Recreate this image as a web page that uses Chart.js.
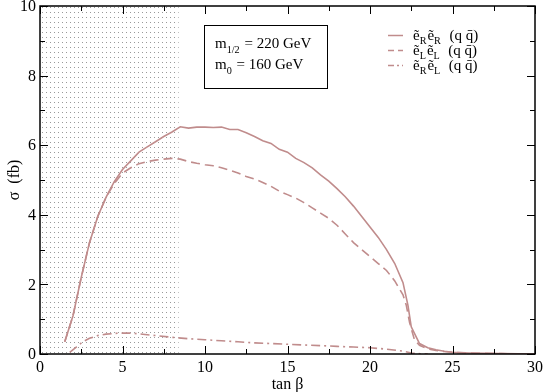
<!DOCTYPE html>
<html>
<head>
<meta charset="utf-8">
<script src="https://cdn.jsdelivr.net/npm/chart.js@4"></script>
<style>
  html, body { margin: 0; padding: 0; background: #fff; }
  #chart { display: block; }
</style>
</head>
<body>
<canvas id="chart" width="545" height="392"></canvas>
<script>
// valores (tan beta, sigma em fb)
const xRR = [1.5, 2, 2.5, 3, 3.5, 4, 4.5, 5, 5.5, 6, 6.5, 7, 7.5, 8, 8.5, 9, 9.5, 10, 10.5, 11, 11.5, 12, 12.5, 13, 13.5, 14, 14.5, 15, 15.5, 16, 16.5, 17, 17.5, 18, 18.5, 19, 19.5, 20, 20.5, 21, 21.5, 22, 22.3, 22.5, 23, 23.5, 24, 24.5, 25, 26, 27, 28, 29, 30];
const yRR = [0.35, 1.1, 2.2, 3.2, 3.95, 4.5, 4.95, 5.3, 5.55, 5.8, 5.95, 6.1, 6.25, 6.38, 6.53, 6.49, 6.52, 6.52, 6.51, 6.52, 6.45, 6.45, 6.36, 6.25, 6.13, 6.05, 5.88, 5.8, 5.62, 5.5, 5.35, 5.15, 4.97, 4.75, 4.52, 4.25, 3.95, 3.65, 3.35, 3.0, 2.6, 2.05, 1.4, 0.78, 0.3, 0.18, 0.12, 0.08, 0.05, 0.03, 0.02, 0.01, 0.005, 0];

const xLL = [1.5, 2, 2.5, 3, 3.5, 4, 4.5, 5, 5.5, 6, 6.5, 7, 7.5, 8, 8.5, 9, 9.5, 10, 10.5, 11, 11.5, 12, 12.5, 13, 13.5, 14, 14.5, 15, 15.5, 16, 16.5, 17, 17.5, 18, 18.5, 19, 19.5, 20, 20.5, 21, 21.5, 22, 22.2, 22.4, 22.7, 23, 23.5, 24, 24.5, 25, 26, 27, 28, 29, 30];
const yLL = [0.35, 1.1, 2.2, 3.2, 3.95, 4.5, 4.9, 5.2, 5.35, 5.47, 5.53, 5.57, 5.6, 5.62, 5.6, 5.53, 5.48, 5.44, 5.41, 5.35, 5.28, 5.2, 5.1, 5.03, 4.93, 4.82, 4.68, 4.58, 4.48, 4.35, 4.2, 4.05, 3.9, 3.7, 3.45, 3.2, 3.0, 2.8, 2.6, 2.4, 2.1, 1.7, 1.4, 0.9, 0.4, 0.25, 0.15, 0.1, 0.07, 0.05, 0.03, 0.02, 0.01, 0.005, 0];

const xRL = [1.8, 2.2, 2.6, 3, 3.5, 4, 4.8, 5.5, 6, 7, 8, 9, 10, 11, 12, 13, 14, 15, 16, 17, 18, 19, 20, 21, 22, 22.5, 23, 23.5];
const yRL = [0.05, 0.2, 0.35, 0.45, 0.53, 0.57, 0.6, 0.6, 0.58, 0.53, 0.48, 0.44, 0.41, 0.38, 0.35, 0.32, 0.3, 0.28, 0.26, 0.24, 0.22, 0.2, 0.18, 0.14, 0.08, 0.03, 0.01, 0];

const xTicks = [0, 5, 10, 15, 20, 25, 30];
const yTicks = [0, 2, 4, 6, 8, 10];
const regiaoExcluida = [0, 8.4]; // faixa pontilhada em tan beta

const cor = 'rgb(192, 140, 140)';
const serif = '"Liberation Serif", "DejaVu Serif", serif';

function pontos(xs, ys) {
  return xs.map((x, i) => ({ x: x, y: ys[i] }));
}

// padrão de pontinhos para a região excluída
function criaPadrao(ctx) {
  const c = document.createElement('canvas');
  c.width = 4; c.height = 5;
  const p = c.getContext('2d');
  p.fillStyle = 'rgba(70,70,70,0.55)';
  p.fillRect(2, 2, 1, 1);
  return ctx.createPattern(c, 'repeat');
}

const regiaoPlugin = {
  id: 'regiao',
  beforeDatasetsDraw(chart) {
    const { ctx, chartArea, scales } = chart;
    const x0 = scales.x.getPixelForValue(regiaoExcluida[0]);
    const x1 = scales.x.getPixelForValue(regiaoExcluida[1]);
    ctx.save();
    ctx.fillStyle = criaPadrao(ctx);
    ctx.fillRect(x0, chartArea.top, x1 - x0, chartArea.bottom - chartArea.top);
    ctx.restore();
  }
};

// texto com subscrito: partes = [[texto, sub?], ...]
function textoSub(ctx, partes, x, y, tam) {
  let cx = x;
  partes.forEach(([t, sub]) => {
    ctx.font = (sub ? tam * 0.68 : tam) + 'px ' + serif;
    ctx.fillText(t, cx, sub ? y + tam * 0.3 : y);
    cx += ctx.measureText(t).width + (sub ? 1 : 0);
  });
}

const molduraPlugin = {
  id: 'moldura',
  afterDraw(chart) {
    const { ctx, chartArea: a, scales } = chart;
    ctx.save();
    ctx.strokeStyle = '#000';
    ctx.lineWidth = 1.5;
    ctx.strokeRect(a.left, a.top, a.right - a.left, a.bottom - a.top);

    // marcas para dentro, nos quatro lados
    ctx.lineWidth = 1;
    for (let v = 0; v <= 30; v += 2.5) {
      const px = Math.round(scales.x.getPixelForValue(v)) + 0.5;
      const len = v % 5 === 0 ? 8 : 5;
      ctx.beginPath();
      ctx.moveTo(px, a.bottom); ctx.lineTo(px, a.bottom - len);
      ctx.moveTo(px, a.top); ctx.lineTo(px, a.top + len);
      ctx.stroke();
    }
    for (let v = 0; v <= 10; v += 1) {
      const py = Math.round(scales.y.getPixelForValue(v)) + 0.5;
      const len = v % 2 === 0 ? 8 : 5;
      ctx.beginPath();
      ctx.moveTo(a.left, py); ctx.lineTo(a.left + len, py);
      ctx.moveTo(a.right, py); ctx.lineTo(a.right - len, py);
      ctx.stroke();
    }

    // rótulos dos eixos
    ctx.fillStyle = '#000';
    ctx.font = '16px ' + serif;
    ctx.textAlign = 'center';
    ctx.textBaseline = 'alphabetic';
    xTicks.forEach(v => ctx.fillText(String(v), scales.x.getPixelForValue(v), 372));
    ctx.textAlign = 'right';
    ctx.textBaseline = 'middle';
    yTicks.forEach(v => ctx.fillText(String(v), 36, scales.y.getPixelForValue(v) + 1));
    ctx.textAlign = 'center';
    ctx.textBaseline = 'alphabetic';
    ctx.fillText('tan \u03B2', (a.left + a.right) / 2, 389);
    ctx.save();
    ctx.translate(19, (a.top + a.bottom) / 2);
    ctx.rotate(-Math.PI / 2);
    ctx.fillText('\u03C3  (fb)', 0, 0);
    ctx.restore();

    // caixa com os parâmetros
    ctx.textAlign = 'left';
    ctx.strokeRect(204.5, 25.5, 123, 63);
    textoSub(ctx, [['m', false], ['1/2', true], [' = 220 GeV', false]], 215, 48, 15);
    textoSub(ctx, [['m', false], ['0', true], [' = 160 GeV', false]], 215, 69, 15);

    // legenda
    const itens = [
      { a: 'R', b: 'R', dash: [] },
      { a: 'L', b: 'L', dash: [6, 4] },
      { a: 'R', b: 'L', dash: [6, 3, 2, 3] }
    ];
    itens.forEach((it, i) => {
      const y = 35.5 + i * 15;
      ctx.strokeStyle = cor;
      ctx.lineWidth = 1.5;
      ctx.setLineDash(it.dash);
      ctx.beginPath();
      ctx.moveTo(388, y); ctx.lineTo(403, y);
      ctx.stroke();
      ctx.setLineDash([]);
      textoSub(ctx, [['\u1EBD', false], [it.a, true], ['\u1EBD', false], [it.b, true], ['  (q q\u0304)', false]], 413, y + 4, 15);
    });
    ctx.restore();
  }
};

const ctx = document.getElementById('chart').getContext('2d');

const meuGrafico = new Chart(ctx, {
  type: 'line',
  data: {
    datasets: [
      { data: pontos(xRR, yRR), borderColor: cor, borderWidth: 1.6 },
      { data: pontos(xLL, yLL), borderColor: cor, borderWidth: 1.6, borderDash: [9, 5] },
      { data: pontos(xRL, yRL), borderColor: cor, borderWidth: 1.6, borderDash: [9, 4, 2, 4] }
    ]
  },
  options: {
    responsive: false,
    animation: false,
    layout: { padding: { top: 6, right: 10, left: 40, bottom: 38 } },
    elements: { point: { radius: 0 }, line: { tension: 0, fill: false } },
    plugins: { legend: { display: false }, tooltip: { enabled: false } },
    scales: {
      x: { type: 'linear', min: 0, max: 30, display: false },
      y: { min: 0, max: 10, display: false }
    }
  },
  plugins: [regiaoPlugin, molduraPlugin]
});
</script>
</body>
</html>
